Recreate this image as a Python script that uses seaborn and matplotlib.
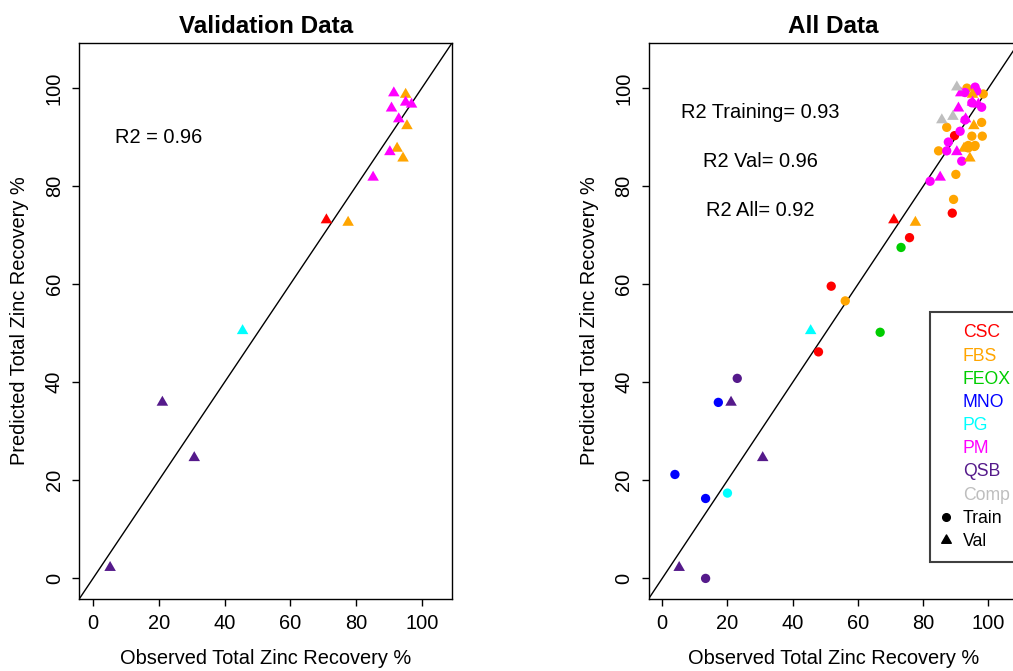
import numpy as np
import pandas as pd
import matplotlib
matplotlib.use("Agg")
import matplotlib.pyplot as plt
import seaborn as sns
from matplotlib.path import Path
from matplotlib.lines import Line2D

# ---- data -------------------------------------------------------------
# validation samples (triangles)
val_group = ["CSC", "FBS", "FBS", "FBS", "FBS", "FBS", "PG",
             "PM", "PM", "PM", "PM", "PM", "PM", "PM",
             "QSB", "QSB", "QSB"]
val_obs = [71.0, 77.6, 95.1, 95.5, 92.5, 94.3, 45.5,
           91.5, 95.1, 96.9, 90.8, 93.0, 90.3, 85.2,
           5.2, 21.1, 30.8]
val_pred = [73.1, 72.6, 98.7, 92.3, 87.7, 85.7, 50.5,
            99.0, 97.1, 96.7, 95.9, 93.7, 87.0, 81.8,
            2.2, 35.9, 24.6]

# composite validation samples (shown only with all data)
comp_obs = [90.3, 85.7, 89.1]
comp_pred = [100.2, 93.5, 94.2]

# training samples (circles)
train_group = (["CSC"] * 5 + ["FBS"] * 14 + ["FEOX"] * 2 + ["MNO"] * 3 +
               ["PG"] + ["PM"] * 11 + ["QSB"] * 2)
train_obs = [47.9, 51.8, 75.8, 88.9, 89.6,
             56.1, 89.3, 90.0, 84.7, 93.8, 95.7, 87.2, 94.9, 98.1, 97.9,
             93.4, 98.4, 93.8, 95.9,
             66.8, 73.2,
             3.9, 13.3, 17.2,
             20.0,
             82.1, 87.2, 87.7, 91.8, 91.3, 92.8, 94.9, 97.9, 95.9, 96.4, 92.8,
             13.3, 23.0]
train_pred = [46.2, 59.6, 69.5, 74.5, 90.3,
              56.6, 77.3, 82.4, 87.2, 87.8, 88.1, 92.0, 90.2, 90.2, 93.0,
              100.0, 98.8, 88.3, 88.3,
              50.2, 67.5,
              21.2, 16.3, 35.9,
              17.4,
              81.0, 87.2, 89.0, 85.1, 91.2, 93.5, 97.0, 96.1, 100.2, 99.4, 99.1,
              0.0, 40.8]

groups = ["CSC", "FBS", "FEOX", "MNO", "PG", "PM", "QSB", "Comp"]
group_colors = ["#FF0000", "#FFA500", "#00CD00", "#0000FF", "#00FFFF",
                "#FF00FF", "#551A8B", "#BEBEBE"]
ticks = [0, 20, 40, 60, 80, 100]

# ---- frames -----------------------------------------------------------
df_val = pd.DataFrame({"obs": val_obs, "pred": val_pred, "group": val_group})
df_train = pd.DataFrame({"obs": train_obs, "pred": train_pred,
                         "group": train_group})
df_comp = pd.DataFrame({"obs": comp_obs, "pred": comp_pred,
                        "group": ["Comp"] * len(comp_obs)})
palette = dict(zip(groups, group_colors))

# ---- style ------------------------------------------------------------
sns.set_theme(style="white")
plt.rcParams["font.family"] = ["Liberation Sans", "DejaVu Sans"]
plt.rcParams.update({"text.color": "black", "axes.labelcolor": "black",
                     "xtick.color": "black", "ytick.color": "black"})

FS = 14.4
TRI = Path([(-1, -0.577), (1, -0.577), (0, 1.155), (-1, -0.577)],
           [Path.MOVETO, Path.LINETO, Path.LINETO, Path.CLOSEPOLY])
TRI_S = 92
DOT_S = 45

W, H = 1013, 671
fig = plt.figure(figsize=(W / 100, H / 100), dpi=100)


def add_axes_px(left, right, top, bottom):
    return fig.add_axes([left / W, 1 - bottom / H, (right - left) / W,
                         (bottom - top) / H])


ax1 = add_axes_px(79.2, 452, 43, 599)
ax2 = add_axes_px(648.5, 1018.5, 43, 599)


def style_axes(ax, title):
    ax.set_xlim(-4.2, 109.2)
    ax.set_ylim(-4.2, 109.2)
    ax.set_xticks(ticks)
    ax.set_yticks(ticks)
    ax.tick_params(bottom=True, left=True, direction="out", length=5,
                   width=1, color="black", labelsize=FS, labelcolor="black",
                   pad=6)
    ax.tick_params(axis="y", labelrotation=90)
    for lab in ax.get_yticklabels():
        lab.set_va("center")
    for sp in ax.spines.values():
        sp.set_color("black")
        sp.set_linewidth(1.0)
    ax.set_title(title, fontsize=17.5, fontweight="bold", pad=7,
                 color="black")
    ax.set_xlabel("Observed Total Zinc Recovery %", fontsize=FS, va="center")
    ax.set_ylabel("Predicted Total Zinc Recovery %", fontsize=FS, va="center")
    ax.xaxis.set_label_coords(0.5, -59 / 556)
    ax.yaxis.set_label_coords(-59 / 371, 0.5)
    ax.axline((0, 0), slope=1, color="black", lw=1, zorder=1)


# ---- validation panel -------------------------------------------------
sns.scatterplot(data=df_val, x="obs", y="pred", hue="group", palette=palette,
                marker=TRI, s=TRI_S, linewidth=0, legend=False, ax=ax1,
                zorder=3)
style_axes(ax1, "Validation Data")
ax1.text(20, 90, "R2 = 0.96", fontsize=FS, ha="center", va="center")

# ---- all-data panel ---------------------------------------------------
sns.scatterplot(data=df_train, x="obs", y="pred", hue="group",
                palette=palette, marker="o", s=DOT_S, linewidth=0,
                legend=False, ax=ax2, zorder=3)
sns.scatterplot(data=df_val, x="obs", y="pred", hue="group", palette=palette,
                marker=TRI, s=TRI_S, linewidth=0, legend=False, ax=ax2,
                zorder=3)
sns.scatterplot(data=df_comp, x="obs", y="pred", hue="group",
                palette=palette, marker=TRI, s=TRI_S, linewidth=0,
                legend=False, ax=ax2, zorder=3)
style_axes(ax2, "All Data")
ax2.text(30, 95, "R2 Training= 0.93", fontsize=FS, ha="center", va="center")
ax2.text(30, 85, "R2 Val= 0.96", fontsize=FS, ha="center", va="center")
ax2.text(30, 75, "R2 All= 0.92", fontsize=FS, ha="center", va="center")

handles = [Line2D([], [], linestyle="none", marker="") for _ in groups]
handles += [Line2D([], [], linestyle="none", marker="o", color="black",
                   markersize=5.5),
            Line2D([], [], linestyle="none", marker=TRI, color="black",
                   markersize=8)]
labels = groups + ["Train", "Val"]
leg = ax2.legend(handles, labels, loc="upper left",
                 bbox_to_anchor=(930 / W, 1 - 312 / H),
                 bbox_transform=fig.transFigure, borderaxespad=0,
                 fontsize=12.7, frameon=True, fancybox=False, framealpha=1,
                 edgecolor="#404040", borderpad=0.7, handlelength=0.45,
                 handletextpad=0.72, labelspacing=0.35)
leg.get_frame().set_linewidth(1.5)
for txt, col in zip(leg.get_texts(), group_colors + ["black", "black"]):
    txt.set_color(col)

fig.savefig("out.png", dpi=100)
